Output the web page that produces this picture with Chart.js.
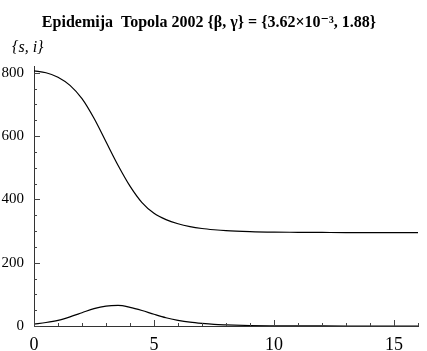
<!DOCTYPE html>
<html>
<head>
<meta charset="utf-8">
<script src="https://cdn.jsdelivr.net/npm/chart.js@4/dist/chart.umd.min.js"></script>
<style>
  html, body { margin: 0; padding: 0; background: #fff; }
  #wrap { width: 427px; height: 351px; }
</style>
</head>
<body>
<div id="wrap"><canvas id="chart"></canvas></div>
<script>
// time points (days)
const times = [0, 0.5, 1, 1.5, 2, 2.5, 3, 3.5, 4, 4.5, 5, 5.5, 6, 6.5, 7, 7.5, 8, 9, 10, 11, 12, 13, 14, 15, 16];
// susceptible s(t)
const sValues = [806, 800, 786, 760, 718, 656, 582, 508, 442, 390, 356, 336, 323, 314, 308, 304, 301, 298, 296.5, 296, 295.5, 295, 295, 295, 295];
// infected i(t)
const iValues = [6, 11, 18, 29, 42, 55, 63, 65, 59, 49, 37, 26, 18, 12, 8, 5, 3.5, 1.5, 0.7, 0.3, 0.1, 0, 0, 0, 0];

const xMajor = [0, 5, 10, 15];
const yMajor = [0, 200, 400, 600, 800];

const serif = "'Liberation Serif', 'DejaVu Serif', serif";

// ticks pointing into the plot, like the original
const innerTicks = {
    id: "innerTicks",
    afterDatasetsDraw(chart) {
        const ctx = chart.ctx;
        const x = chart.scales.x;
        const y = chart.scales.y;
        ctx.save();
        ctx.strokeStyle = "#444";
        ctx.lineWidth = 1;
        ctx.beginPath();
        for (let t = 0; t <= 16; t++) {
            let len = t % 5 === 0 ? 6 : 3;
            let px = Math.round(x.getPixelForValue(t)) + 0.5;
            ctx.moveTo(px, y.bottom);
            ctx.lineTo(px, y.bottom - len);
        }
        for (let v = 0; v <= 800; v += 50) {
            let len = v % 200 === 0 ? 6 : 3;
            let py = Math.round(y.getPixelForValue(v)) + 0.5;
            ctx.moveTo(x.left, py);
            ctx.lineTo(x.left + len, py);
        }
        ctx.stroke();
        ctx.restore();
    }
};

new Chart(document.getElementById("chart"), {
    type: "line",
    data: {
        datasets: [
            {
                label: "s",
                data: times.map((t, k) => ({ x: t, y: sValues[k] })),
                borderColor: "#000",
                borderWidth: 1.2,
                pointRadius: 0,
                cubicInterpolationMode: "monotone",
                fill: false
            },
            {
                label: "i",
                data: times.map((t, k) => ({ x: t, y: iValues[k] })),
                borderColor: "#000",
                borderWidth: 1.2,
                pointRadius: 0,
                cubicInterpolationMode: "monotone",
                fill: false
            }
        ]
    },
    options: {
        responsive: true,
        maintainAspectRatio: false,
        animation: false,
        layout: { padding: { left: 0, right: 9, top: 0, bottom: 0 } },
        plugins: {
            legend: { display: false },
            tooltip: { enabled: false },
            title: {
                display: true,
                text: "Epidemija  Topola 2002 {β, γ} = {3.62×10⁻³, 1.88}",
                color: "#000",
                font: { family: serif, size: 16, weight: "bold", lineHeight: 1.2 },
                padding: { top: 13, bottom: 6 }
            },
            subtitle: {
                display: true,
                text: "\u2002 {s, i}",
                align: "start",
                color: "#000",
                font: { family: serif, size: 16, style: "italic", lineHeight: 1.2 },
                padding: { top: 0, bottom: 9 }
            }
        },
        scales: {
            x: {
                type: "linear",
                min: 0,
                max: 16,
                afterBuildTicks: s => { s.ticks = xMajor.map(v => ({ value: v })); },
                afterFit: s => { s.height = 25; },
                grid: { display: false },
                border: { display: true, color: "#333", width: 1 },
                ticks: {
                    color: "#000",
                    padding: 0,
                    maxRotation: 0,
                    font: { family: serif, size: 18 }
                }
            },
            y: {
                min: 0,
                max: 820,
                afterBuildTicks: s => { s.ticks = yMajor.map(v => ({ value: v })); },
                afterFit: s => { s.width = 34; },
                grid: { display: false },
                border: { display: true, color: "#333", width: 1 },
                ticks: {
                    color: "#000",
                    padding: 2,
                    font: { family: serif, size: 15 }
                }
            }
        }
    },
    plugins: [innerTicks]
});
</script>
</body>
</html>
